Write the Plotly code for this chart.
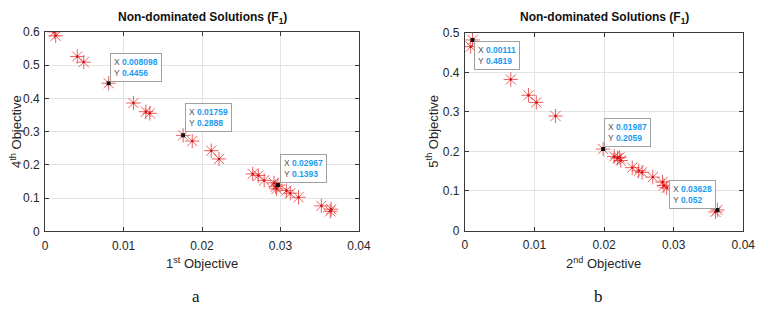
import plotly.graph_objects as go

W, H = 770, 312

# ---------------- data ----------------
# Panel a: 1st objective vs 4th objective
a_x = [0.00117, 0.00134, 0.00409, 0.00492, 0.008098, 0.01125, 0.01284, 0.01334, 0.01759,
       0.01875, 0.02117, 0.02217, 0.02646, 0.02717, 0.02792, 0.02917, 0.02938, 0.02967,
       0.0295, 0.03075, 0.03125, 0.0323, 0.03521, 0.03646, 0.03634]
a_y = [0.600, 0.588, 0.526, 0.509, 0.4456, 0.386, 0.360, 0.355, 0.2888,
       0.2716, 0.2428, 0.218, 0.173, 0.168, 0.1535, 0.146, 0.1345, 0.1393,
       0.128, 0.1227, 0.115, 0.1028, 0.0769, 0.067, 0.0605]
a_tip_x = [0.008098, 0.01759, 0.02967]
a_tip_y = [0.4456, 0.2888, 0.1393]
a_tip_lbl_x = ["0.008098", "0.01759", "0.02967"]
a_tip_lbl_y = ["0.4456", "0.2888", "0.1393"]

# Panel b: 2nd objective vs 5th objective
b_x = [0.00111, 0.00084, 0.0066, 0.00914, 0.01027, 0.01303, 0.01987, 0.02146, 0.02194,
       0.0222, 0.0224, 0.02405, 0.02498, 0.02546, 0.027, 0.0284, 0.0286, 0.029,
       0.03628, 0.0360]
b_y = [0.4819, 0.465, 0.382, 0.342, 0.324, 0.2895, 0.2059, 0.187, 0.183,
       0.185, 0.177, 0.159, 0.151, 0.147, 0.135, 0.1226, 0.114, 0.108,
       0.052, 0.047]
b_tip_x = [0.00111, 0.01987, 0.03628]
b_tip_y = [0.4819, 0.2059, 0.052]
b_tip_lbl_x = ["0.00111", "0.01987", "0.03628"]
b_tip_lbl_y = ["0.4819", "0.2059", "0.052"]

x_ticks = [0, 0.01, 0.02, 0.03, 0.04]
x_tick_text = ["0", "0.01", "0.02", "0.03", "0.04"]
a_y_ticks = [0, 0.1, 0.2, 0.3, 0.4, 0.5, 0.6]
a_y_tick_text = ["0", "0.1", "0.2", "0.3", "0.4", "0.5", "0.6"]
b_y_ticks = [0, 0.1, 0.2, 0.3, 0.4, 0.5]
b_y_tick_text = ["0", "0.1", "0.2", "0.3", "0.4", "0.5"]

title_text = "Non-dominated Solutions (F<sub>1</sub>)"
a_xlabel = "1<sup>st</sup> Objective"
a_ylabel = "4<sup>th</sup> Objective"
b_xlabel = "2<sup>nd</sup> Objective"
b_ylabel = "5<sup>th</sup> Objective"

# ---------------- layout helpers ----------------
def px_x(p):
    return p / W

def px_y(p):
    return 1 - p / H

RED = "rgba(230,45,45,0.75)"
TIP_BLUE = "#1a9bf0"
FONT = "Liberation Sans, Arial, sans-serif"
AX_COLOR = "#3a3a3a"

fig = go.Figure()

def add_panel(xs, ys, tx, ty, xa, ya):
    fig.add_trace(go.Scatter(x=xs, y=ys, mode="markers", xaxis=xa, yaxis=ya,
                             marker=dict(symbol="asterisk-open", size=12, color=RED,
                                         line=dict(color=RED, width=1)),
                             showlegend=False, hoverinfo="skip"))
    fig.add_trace(go.Scatter(x=xs, y=ys, mode="markers", xaxis=xa, yaxis=ya,
                             marker=dict(symbol="circle", size=2.5, color="#d01010"),
                             showlegend=False, hoverinfo="skip"))
    fig.add_trace(go.Scatter(x=tx, y=ty, mode="markers", xaxis=xa, yaxis=ya,
                             marker=dict(symbol="square", size=4, color="#111111"),
                             showlegend=False, hoverinfo="skip"))

add_panel(a_x, a_y, a_tip_x, a_tip_y, "x", "y")
add_panel(b_x, b_y, b_tip_x, b_tip_y, "x2", "y2")

axis_common = dict(showgrid=True, gridcolor="#e3e3e3", gridwidth=1,
                   showline=True, linecolor=AX_COLOR, linewidth=1, mirror="ticks",
                   ticks="inside", ticklen=4, tickcolor=AX_COLOR,
                   tickfont=dict(family=FONT, size=12, color="#262626"),
                   zeroline=False, fixedrange=True)

fig.update_layout(
    width=W, height=H,
    margin=dict(l=0, r=0, t=0, b=0),
    paper_bgcolor="white", plot_bgcolor="white",
    xaxis=dict(domain=[px_x(43), px_x(363)], range=[0, 0.04], anchor="y",
               tickvals=x_ticks, ticktext=x_tick_text, ticklabelstandoff=3, **axis_common),
    yaxis=dict(domain=[px_y(235), px_y(26)], range=[0, 0.6], anchor="x",
               tickvals=a_y_ticks, ticktext=a_y_tick_text, ticklabelstandoff=2, **axis_common),
    xaxis2=dict(domain=[px_x(471), px_x(755)], range=[0, 0.04], anchor="y2",
                tickvals=x_ticks, ticktext=x_tick_text, ticklabelstandoff=3, **axis_common),
    yaxis2=dict(domain=[px_y(234), px_y(27)], range=[0, 0.5], anchor="x2",
                tickvals=b_y_ticks, ticktext=b_y_tick_text, ticklabelstandoff=2, **axis_common),
)

ann = []

def paper_text(t, cx, cy, size, family=FONT, color="#262626", angle=0):
    return dict(text=t, x=px_x(cx), y=px_y(cy), xref="paper", yref="paper",
                xanchor="center", yanchor="middle", textangle=angle, showarrow=False,
                font=dict(family=family, size=size, color=color))

# titles
for cx in (203, 613):
    ann.append(paper_text("<b>" + title_text + "</b>", cx, 12, 12, color="#111111"))
# x labels
ann.append(paper_text(a_xlabel, 203, 268, 13))
ann.append(paper_text(b_xlabel, 612, 268, 13))
# y labels
ann.append(paper_text(a_ylabel, 13, 130, 13, angle=-90))
ann.append(paper_text(b_ylabel, 438, 130, 13, angle=-90))
# panel letters
ann.append(paper_text("a", 197, 303, 17, family="Liberation Serif, Times New Roman, serif",
                      color="#111111"))
ann.append(paper_text("b", 607, 303, 17, family="Liberation Serif, Times New Roman, serif",
                      color="#111111"))

def tip(xv, yv, lx, ly, xref, yref, xanchor, yanchor, xs, ys):
    txt = ("X <b><span style='color:%s'>%s</span></b><br>"
           "Y <b><span style='color:%s'>%s</span></b>") % (TIP_BLUE, lx, TIP_BLUE, ly)
    return dict(text=txt, x=xv, y=yv, xref=xref, yref=yref, showarrow=False,
                xanchor=xanchor, yanchor=yanchor, xshift=xs, yshift=ys, align="left",
                bgcolor="rgba(255,255,255,0.92)", bordercolor="#a0a0a0", borderwidth=1,
                borderpad=3, font=dict(family=FONT, size=8.5, color="#555555"))

a_anchor = [("left", "bottom", 1, 1), ("left", "bottom", 2, 3), ("left", "bottom", 2, 2)]
for i in range(3):
    xa_, ya_, xs, ys = a_anchor[i]
    ann.append(tip(a_tip_x[i], a_tip_y[i], a_tip_lbl_x[i], a_tip_lbl_y[i], "x", "y",
                   xa_, ya_, xs, ys))
b_anchor = [("left", "top", 1, -1), ("left", "bottom", 1, 2), ("right", "bottom", -1, 1)]
for i in range(3):
    xa_, ya_, xs, ys = b_anchor[i]
    ann.append(tip(b_tip_x[i], b_tip_y[i], b_tip_lbl_x[i], b_tip_lbl_y[i], "x2", "y2",
                   xa_, ya_, xs, ys))

fig.update_layout(annotations=ann)
fig.write_html("out.html")
